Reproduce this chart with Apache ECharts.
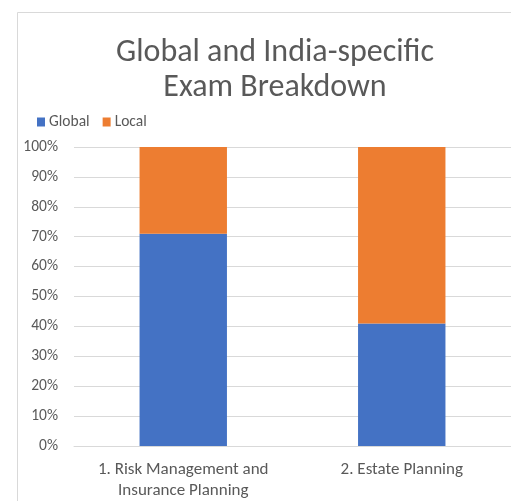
<!DOCTYPE html>
<html><head><meta charset="utf-8">
<script src="https://cdn.jsdelivr.net/npm/echarts@6/dist/echarts.min.js"></script>
<style>html,body{margin:0;padding:0;background:#fff}#c{width:511px;height:501px}</style>
</head><body><div id="c"></div>
<script>
const categories = ['1. Risk Management and\nInsurance Planning', '2. Estate Planning'];
const globalVals = [71, 41];
const localVals = [29, 59];
const titleText = 'Global and India-specific\nExam Breakdown';

const chart = echarts.init(document.getElementById('c'), null, {renderer: 'canvas'});
const font = 'Calibri, Carlito, Lato, "Open Sans", "Noto Sans", sans-serif';
chart.setOption({
  animation: false,
  backgroundColor: '#fff',
  graphic: [{type: 'rect', shape: {x: 17.5, y: 12.5, width: 520, height: 520}, style: {fill: 'none', stroke: '#d9d9d9', lineWidth: 1}, silent: true}],
  title: {
    text: titleText, left: 270, top: 30, textAlign: 'center',
    textStyle: {fontFamily: font, fontSize: 32, fontWeight: 'normal', color: '#595959', lineHeight: 35}
  },
  legend: {
    left: 32, top: 109, itemWidth: 8, itemHeight: 9, itemGap: 13, icon: 'rect',
    textStyle: {fontFamily: font, fontSize: 15.5, color: '#595959', padding: [0, 0, 0, -1]},
    data: ['Global', 'Local']
  },
  grid: {left: 74, right: -2, top: 147, bottom: 53, containLabel: false},
  xAxis: {
    type: 'category', data: categories,
    axisLine: {lineStyle: {color: '#d9d9d9'}}, axisTick: {show: false},
    axisLabel: {interval: 0, hideOverlap: false, fontFamily: font, fontSize: 17, color: '#595959', margin: 13, lineHeight: 21}
  },
  yAxis: {
    type: 'value', min: 0, max: 100, interval: 10,
    axisLabel: {formatter: '{value}%', fontFamily: font, fontSize: 15.5, color: '#595959', margin: 16},
    splitLine: {lineStyle: {color: '#d9d9d9'}},
    axisLine: {show: false}, axisTick: {show: false}
  },
  series: [
    {name: 'Global', type: 'bar', stack: 's', data: globalVals, barWidth: '40%', itemStyle: {color: '#4472c4'}},
    {name: 'Local', type: 'bar', stack: 's', data: localVals, barWidth: '40%', itemStyle: {color: '#ed7d31'}}
  ]
});
</script></body></html>
